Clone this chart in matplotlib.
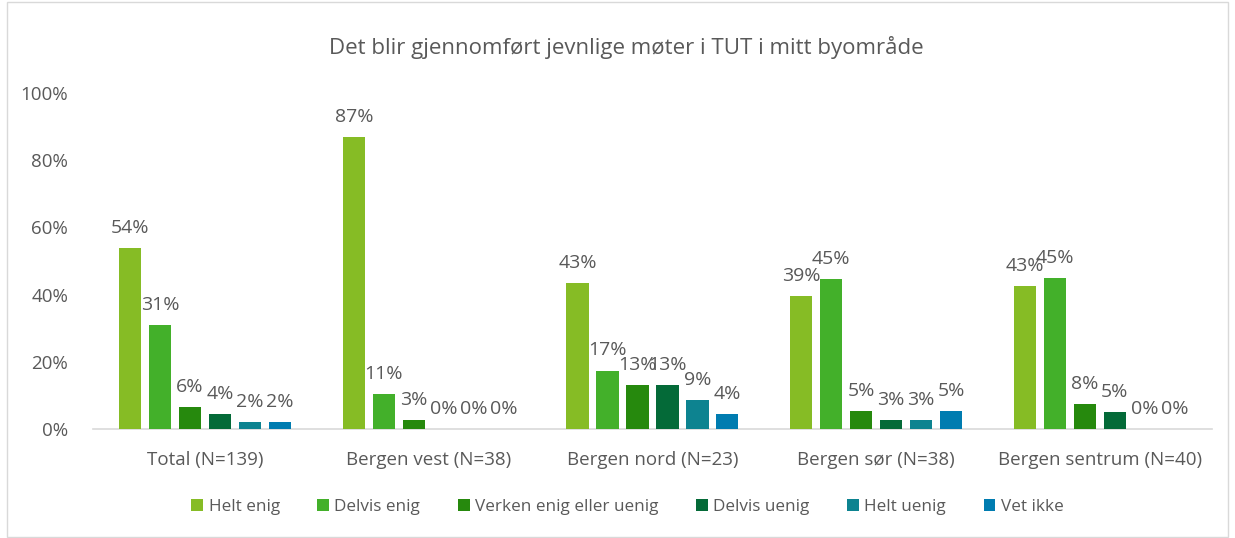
import numpy as np
import matplotlib
matplotlib.use('Agg')
from matplotlib import pyplot as plt
from matplotlib.patches import Rectangle

plt.rcParams['font.family'] = ['Open Sans', 'DejaVu Sans']

title = 'Det blir gjennomført jevnlige møter i TUT i mitt byområde'
groups = ['Total (N=139)', 'Bergen vest (N=38)', 'Bergen nord (N=23)',
          'Bergen sør (N=38)', 'Bergen sentrum (N=40)']
series = ['Helt enig', 'Delvis enig', 'Verken enig eller uenig',
          'Delvis uenig', 'Helt uenig', 'Vet ikke']
colors = ['#86BC25', '#43B02A', '#26890D', '#046A38', '#0D8390', '#007CB0']

# prosent per gruppe, i rekkefolge av series
helt_enig = [53.96, 86.84, 43.48, 39.47, 42.5]
delvis_enig = [30.94, 10.53, 17.39, 44.74, 45.0]
verken = [6.47, 2.63, 13.04, 5.26, 7.5]
delvis_uenig = [4.32, 0.0, 13.04, 2.63, 5.0]
helt_uenig = [2.16, 0.0, 8.70, 2.63, 0.0]
vet_ikke = [2.16, 0.0, 4.35, 5.26, 0.0]
values = [helt_enig, delvis_enig, verken, delvis_uenig, helt_uenig, vet_ikke]

grey = '#595959'
fig = plt.figure(figsize=(12.35, 5.38), dpi=100)
ax = fig.add_axes([0.0755, 0.2026, 0.9055, 0.6245])

x = np.arange(len(groups))
step = 0.134
width = 0.1
for i, (name, vals) in enumerate(zip(series, values)):
    pos = x + (i - 2.5) * step
    ax.bar(pos, vals, width, color=colors[i], label=name, zorder=3)
    for p, v in zip(pos, vals):
        ax.text(p, v + 3.3, '{}%'.format(int(v + 0.5)), ha='center', va='bottom',
                fontsize=14, color=grey)

ax.set_xlim(-0.5, len(groups) - 0.5)
ax.set_ylim(0, 100)
ax.set_xticks(x)
ax.set_xticklabels(groups, fontsize=13.5, color=grey)
ax.set_yticks(range(0, 101, 20))
ax.set_yticklabels(['{}%'.format(t) for t in range(0, 101, 20)], fontsize=13.5, color=grey)
ax.tick_params(axis='x', length=0, pad=16)
ax.tick_params(axis='y', length=0, pad=18)
for s in ['top', 'right', 'left']:
    ax.spines[s].set_visible(False)
ax.spines['bottom'].set_color('#d9d9d9')
ax.spines['bottom'].set_linewidth(1.2)

fig.text(0.507, 0.912, title, ha='center', va='center', fontsize=16, color=grey)

leg = fig.legend(loc='center', bbox_to_anchor=(0.508, 0.058), ncol=6, frameon=False,
                 fontsize=12.3, handlelength=0.7, handleheight=0.7, handletextpad=0.3,
                 columnspacing=2.2)
for t in leg.get_texts():
    t.set_color(grey)

fig.patches.append(Rectangle((0.006, 0.002), 0.988, 0.995, transform=fig.transFigure,
                             fill=False, edgecolor='#d9d9d9', linewidth=1))

plt.savefig('out.png', dpi=100)
